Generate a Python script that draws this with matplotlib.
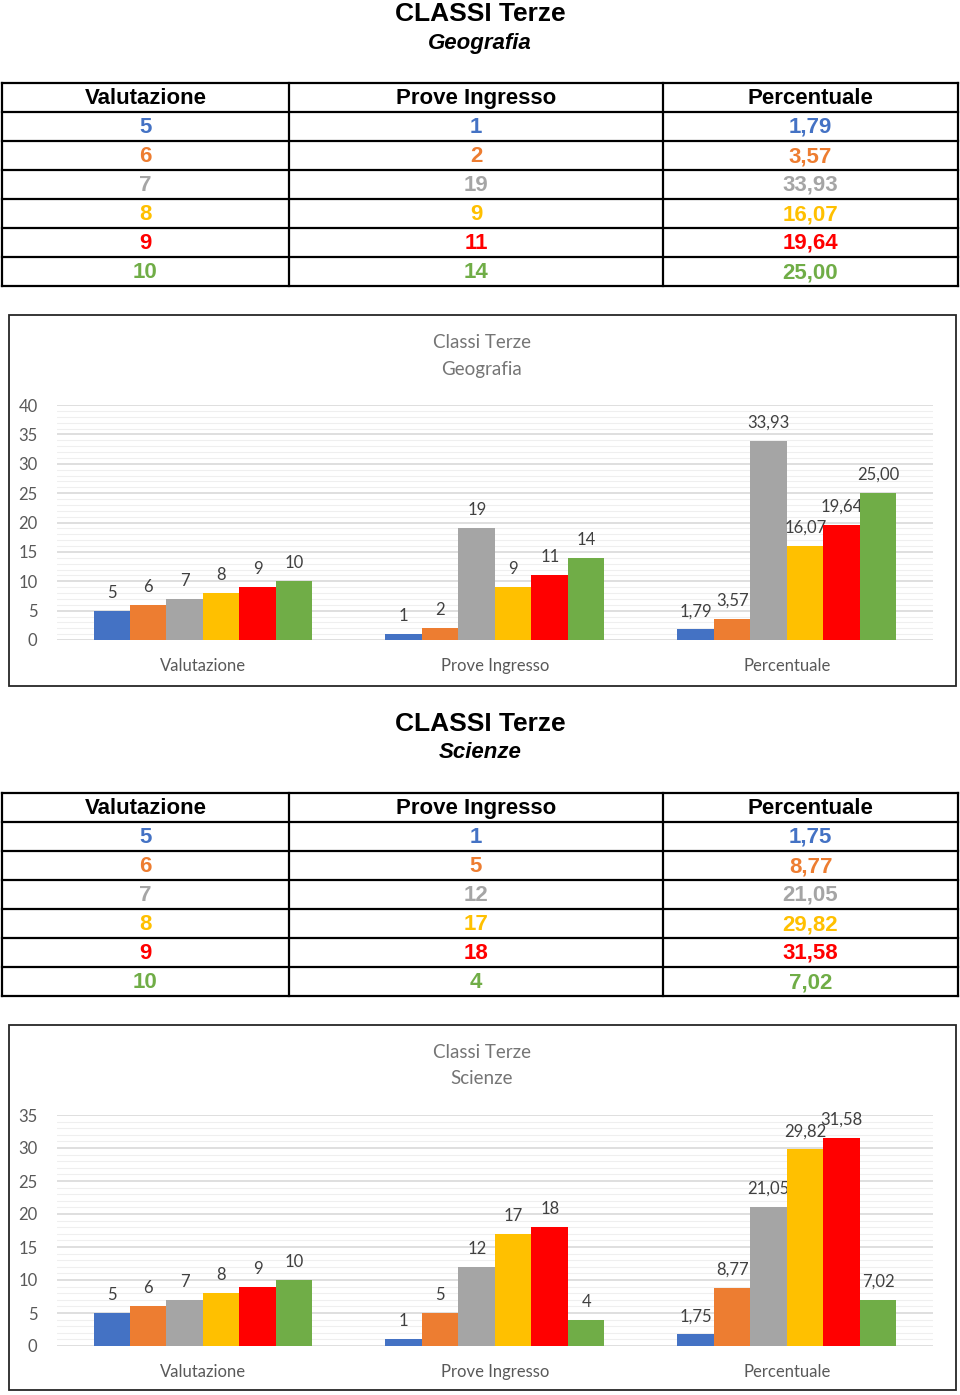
import matplotlib.pyplot as plt
from matplotlib.patches import Rectangle
from matplotlib.ticker import MultipleLocator

W, H = 960, 1395

categorie = ["Valutazione", "Prove Ingresso", "Percentuale"]
voti = [5, 6, 7, 8, 9, 10]
colori = ["#4472C4", "#ED7D31", "#A5A5A5", "#FFC000", "#FF0000", "#70AD47"]

geo_prove = [1, 2, 19, 9, 11, 14]
geo_perc = [1.79, 3.57, 33.93, 16.07, 19.64, 25.00]

sci_prove = [1, 5, 12, 17, 18, 4]
sci_perc = [1.75, 8.77, 21.05, 29.82, 31.58, 7.02]

fig = plt.figure(figsize=(W / 100, H / 100), dpi=100)


def px_axes(x0, y0, x1, y1):
    return fig.add_axes([x0 / W, 1 - y1 / H, (x1 - x0) / W, (y1 - y0) / H])


def fmt(v):
    return ("%.2f" % v).replace(".", ",")


def intestazione(y, materia):
    fig.text(480 / W, 1 - y / H, "CLASSI Terze", ha="center", va="center",
             fontsize=19, fontweight="bold", family="Liberation Sans")
    fig.text(480 / W, 1 - (y + 29) / H, materia, ha="center", va="center",
             fontsize=16, fontweight="bold", style="italic", family="Liberation Sans")


def tabella(y0, prove, perc):
    cols = [2, 289, 663, 958]
    rh = 29
    y1 = y0 + rh * 7
    ax = px_axes(0, y0 - 2, W, y1 + 2)
    ax.set_xlim(0, W)
    ax.set_ylim(y1 + 2, y0 - 2)
    ax.axis("off")
    for c in cols:
        ax.plot([c, c], [y0, y1], color="black", lw=1.6, solid_capstyle="projecting")
    for r in range(8):
        ax.plot([cols[0], cols[-1]], [y0 + r * rh, y0 + r * rh], color="black", lw=1.6,
                solid_capstyle="projecting")
    centri = [(cols[i] + cols[i + 1]) / 2 for i in range(3)]
    for i, t in enumerate(categorie):
        ax.text(centri[i], y0 + rh / 2 + 1, t, ha="center", va="center", fontsize=16,
                fontweight="bold", family="Liberation Sans")
    for r in range(6):
        yc = y0 + rh * (r + 1) + rh / 2 + 1
        vals = [str(voti[r]), str(prove[r]), fmt(perc[r])]
        for i in range(3):
            ax.text(centri[i], yc, vals[i], ha="center", va="center", fontsize=16,
                    fontweight="bold", color=colori[r], family="Liberation Sans")


def grafico(box, area, titolo, ymax, prove, perc):
    bx0, by0, bx1, by1 = box
    fig.patches.append(Rectangle((bx0 / W, 1 - by1 / H), (bx1 - bx0) / W, (by1 - by0) / H,
                                 transform=fig.transFigure, fill=False,
                                 edgecolor="#262626", lw=1.3))
    fig.text(482 / W, 1 - (by0 + 28) / H, titolo[0], ha="center", va="center",
             fontsize=13.5, color="#757575", family="Lato")
    fig.text(482 / W, 1 - (by0 + 54) / H, titolo[1], ha="center", va="center",
             fontsize=13.5, color="#757575", family="Lato")

    ax = px_axes(*area)
    serie = [voti, prove, perc]
    w = 0.75 / 6
    for j in range(6):
        xs = [i + (j - 2.5) * w for i in range(3)]
        hs = [serie[i][j] for i in range(3)]
        ax.bar(xs, hs, width=w, color=colori[j], zorder=3)
        for i in range(3):
            lab = fmt(hs[i]) if i == 2 else str(hs[i])
            ax.annotate(lab, (xs[i], hs[i]), xytext=(0, 13), textcoords="offset points",
                        ha="center", va="center", fontsize=12, color="#404040", family="Lato")
    ax.set_xlim(-0.5, 2.5)
    ax.set_ylim(0, ymax)
    ax.yaxis.set_major_locator(MultipleLocator(5))
    ax.yaxis.set_minor_locator(MultipleLocator(1))
    ax.grid(axis="y", which="major", color="#D9D9D9", lw=1.2, zorder=0)
    ax.grid(axis="y", which="minor", color="#EFEFEF", lw=0.8, zorder=0)
    for s in ax.spines.values():
        s.set_visible(False)
    ax.tick_params(axis="y", which="both", length=0, pad=14, labelsize=12, labelcolor="#595959")
    ax.tick_params(axis="x", length=0, pad=13, labelsize=12, labelcolor="#595959")
    ax.set_xticks(range(3))
    ax.set_xticklabels(categorie)
    for t in ax.get_xticklabels() + ax.get_yticklabels():
        t.set_family("Lato")


intestazione(14, "Geografia")
tabella(83, geo_prove, geo_perc)
grafico((9, 315, 956, 686), (57, 405, 933, 640), ["Classi Terze", "Geografia"], 40,
        geo_prove, geo_perc)

intestazione(724, "Scienze")
tabella(793, sci_prove, sci_perc)
grafico((9, 1025, 956, 1390), (57, 1115, 933, 1346), ["Classi Terze", "Scienze"], 35,
        sci_prove, sci_perc)

fig.savefig("out.png", dpi=100, facecolor="white")
